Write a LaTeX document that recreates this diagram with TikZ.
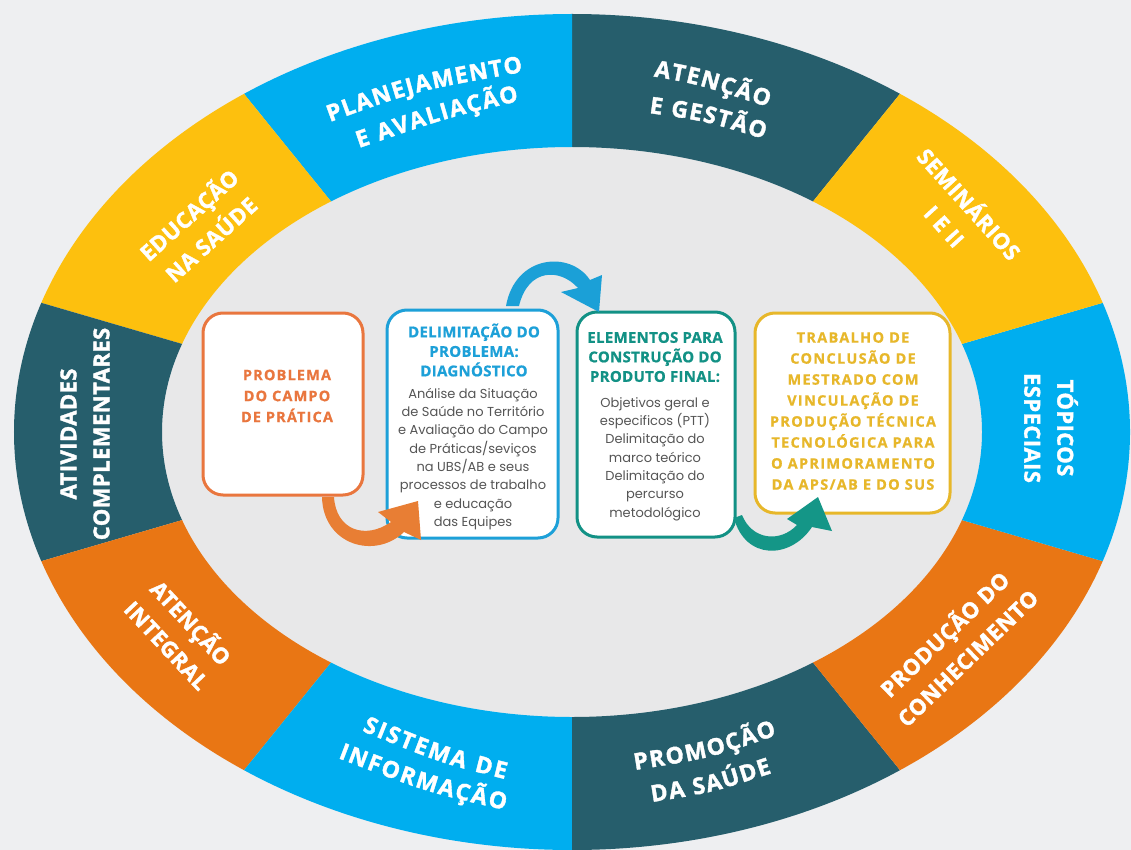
\documentclass[tikz,border=0pt]{standalone}
\usepackage{fontspec}
\setmainfont{Open Sans}
\newfontfamily\bodyfam{Poppins}
\usetikzlibrary{decorations.text}
\definecolor{bgc}{RGB}{238,239,241}
\definecolor{innerc}{RGB}{232,232,233}
\definecolor{rteal}{RGB}{38,94,108}
\definecolor{rblue}{RGB}{0,174,239}
\definecolor{ryellow}{RGB}{253,192,14}
\definecolor{rorange}{RGB}{233,118,20}
\definecolor{orangeT}{RGB}{233,118,62}
\definecolor{blueT}{RGB}{29,160,216}
\definecolor{tealT}{RGB}{18,145,133}
\definecolor{goldT}{RGB}{231,183,42}
\definecolor{bodyT}{RGB}{85,85,85}
\definecolor{arrO}{RGB}{232,126,52}
\definecolor{arrB}{RGB}{27,160,215}
\definecolor{arrT}{RGB}{20,150,135}
\newcommand\ringfont{\fontsize{22}{33}\selectfont\bfseries\addfontfeature{FakeBold=1.6}}
\newcommand\curvefont{\fontsize{23}{33}\selectfont\bfseries\addfontfeature{FakeBold=1.6}}
\newcommand\titfont{\fontsize{15}{19.5}\selectfont\bfseries\addfontfeature{FakeBold=0.8,LetterSpace=2}}
\newcommand\bodfont{\fontsize{13}{18.3}\selectfont\bodyfam}
\newcommand\onefont{\fontsize{14.5}{21}\selectfont\bfseries\addfontfeature{FakeBold=0.8,LetterSpace=8}}
\newcommand\goldfont{\fontsize{14.5}{21}\selectfont\bfseries\addfontfeature{FakeBold=0.8,LetterSpace=9}}
\newcommand\ringseg[3]{\fill[#3] (#1:558pt and 418pt) arc[start angle=#1, end angle=#2, x radius=558pt, y radius=418pt] -- (#2:410pt and 285pt) arc[start angle=#2, end angle=#1, x radius=410pt, y radius=285pt] -- cycle;}
% text on a curve from (#1,#2) to (#3,#4) bent towards control (#5,#6), pixel coordinates
\newcommand\qline[7]{\path[decorate,decoration={text along path,text align=fit to path,text color=white,text={|\curvefont|#7}}] (#1,-#2) .. controls (#5,-#6) .. (#3,-#4);}
\tikzset{
 ringlbl/.style={text=white,font=\ringfont\addfontfeature{LetterSpace=2},align=center,inner sep=0pt},
 card/.style={draw=#1,fill=white,line width=3pt,rounded corners=20pt,inner sep=0pt},
 tit/.style={text=#1,font=\titfont,align=center,inner sep=0pt},
 bod/.style={text=bodyT,font=\bodfont,align=center,inner sep=0pt}
}
\begin{document}
\begin{tikzpicture}[x=1pt,y=1pt]
\fill[bgc] (0,0) rectangle (1131,-850);
\useasboundingbox (0,0) rectangle (1131,-850);
\begin{scope}[shift={(572,-432)}]
 \fill[innerc] (0,0) ellipse [x radius=410pt, y radius=285pt];
 \ringseg{54}{90}{rteal}
 \ringseg{90}{126}{rblue}
 \ringseg{126}{162}{ryellow}
 \ringseg{162}{198}{rteal}
 \ringseg{198}{234}{rorange}
 \ringseg{234}{270}{rblue}
 \ringseg{270}{306}{rteal}
 \ringseg{306}{342}{rorange}
 \ringseg{-18}{18}{rblue}
 \ringseg{18}{54}{ryellow}
\end{scope}
% curved labels (top and bottom segments)
\qline{330}{122}{523}{72}{415}{91}{PLANEJAMENTO}
\qline{359}{148}{519}{101}{447.7}{117.5}{E AVALIAÇÃO}
\qline{653.6}{76.4}{768}{107}{697.8}{84.2}{ATENÇÃO}
\qline{649}{113}{764}{139}{704.3}{120.8}{E GESTÃO}
\qline{362}{731}{505}{779}{441.5}{763.2}{SISTEMA DE}
\qline{338}{758}{505}{810}{426.1}{791.8}{INFORMAÇÃO}
\qline{635}{770}{777}{735}{709.6}{758.2}{PROMOÇÃO}
\qline{652}{802}{772}{773}{711.8}{792.6}{DA SAÚDE}
% side labels
\node[ringlbl,rotate=90] (ativ) at (85,-434) {ATIVIDADES\\COMPLEMENTARES};
\node[ringlbl,rotate=-90] (topi) at (1051,-428) {TÓPICOS\\ESPECIAIS};
\node[ringlbl,rotate=42] (educ) at (199,-226) {EDUCAÇÃO\\NA SAÚDE};
\node[ringlbl,rotate=-48] (semi) at (958,-214) {SEMINÁRIOS\\I E II};
\node[ringlbl,rotate=-47] (aint) at (180,-633) {ATENÇÃO\\INTEGRAL};
\node[ringlbl,rotate=44] (prod) at (955,-645) {PRODUÇÃO DO\\CONHECIMENTO};
% cards
\node[card=orangeT,minimum width=160pt,minimum height=182pt] (b1) at (283,-404) {};
\node[card=blueT,minimum width=171pt,minimum height=228pt] (b2) at (472.5,-424) {};
\node[card=tealT,minimum width=158pt,minimum height=225pt] (b3) at (656,-424.5) {};
\node[card=goldT,minimum width=195pt,minimum height=200pt] (b4) at (852.5,-413) {};
\node[tit=orangeT,font=\onefont] (t1) at (287,-396) {PROBLEMA\\DO CAMPO\\DE PRÁTICA};
\node[tit=blueT] (t2) at (474,-350) {DELIMITAÇÃO DO\\PROBLEMA:\\DIAGNÓSTICO};
\node[bod] (d2) at (473,-459) {Análise da Situação\\de Saúde no Território\\e Avaliação do Campo\\de Práticas/seviços\\na UBS/AB e seus\\processos de trabalho\\e educação\\das Equipes};
\node[tit=tealT] (t3) at (655,-357) {ELEMENTOS PARA\\CONSTRUÇÃO DO\\PRODUTO FINAL:};
\node[bod] (d3) at (655,-459) {Objetivos geral e\\especificos (PTT)\\Delimitação do\\marco teórico\\Delimitação do\\percurso\\metodológico};
\node[tit=goldT,font=\goldfont] (t4) at (853,-411) {TRABALHO DE\\CONCLUSÃO DE\\MESTRADO COM\\VINCULAÇÃO DE\\PRODUÇÃO TÉCNICA\\TECNOLÓGICA PARA\\O APRIMORAMENTO\\DA APS/AB E DO SUS};
% curved arrows
\fill[arrO] (322,-497) .. controls (323,-545) and (375,-560) .. (404,-532) -- (421,-540) -- (418,-501) -- (378,-512) -- (391,-522) .. controls (365,-540) and (336,-530) .. (334,-497) -- cycle;
\fill[arrB] (506,-306) .. controls (515,-255) and (570,-250) .. (590,-280) -- (602,-275) -- (599,-312) -- (561,-292) -- (578,-288) .. controls (560,-268) and (528,-268) .. (519,-306) -- cycle;
\fill[arrT] (734,-518) .. controls (745,-560) and (790,-560) .. (812,-527) -- (832,-531) -- (818,-497) -- (787,-519) -- (797,-525) .. controls (780,-543) and (752,-540) .. (742,-515) -- cycle;
\end{tikzpicture}
\end{document}
